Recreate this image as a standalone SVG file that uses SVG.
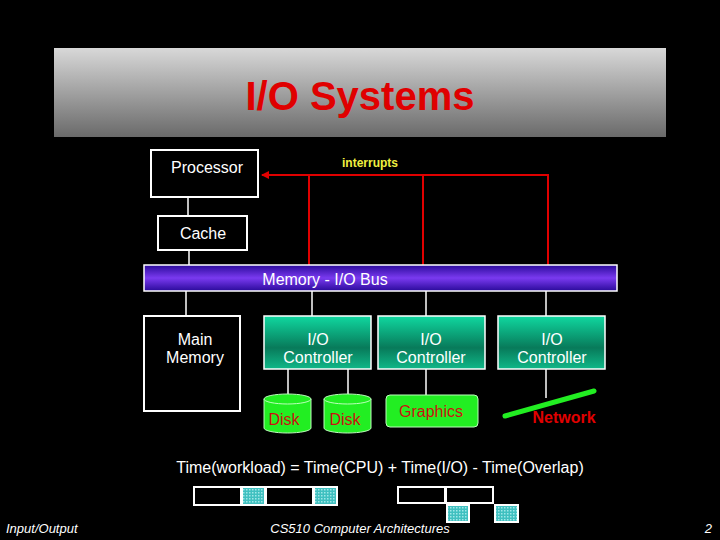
<svg xmlns="http://www.w3.org/2000/svg" width="720" height="540" viewBox="0 0 720 540">
<defs>
<linearGradient id="gt" x1="0" y1="0" x2="0" y2="1"><stop offset="0" stop-color="#d8d8d8"/><stop offset="1" stop-color="#6a6a6a"/></linearGradient>
<linearGradient id="gb" x1="0" y1="0" x2="0" y2="1"><stop offset="0" stop-color="#2a0a9a"/><stop offset="0.5" stop-color="#7a3af0"/><stop offset="1" stop-color="#2a0a9a"/></linearGradient>
<linearGradient id="gc" x1="0" y1="0" x2="0" y2="1"><stop offset="0" stop-color="#10d8a0"/><stop offset="0.6" stop-color="#087a5a"/><stop offset="1" stop-color="#10b888"/></linearGradient>
<pattern id="dots" width="3" height="3" patternUnits="userSpaceOnUse"><rect width="3" height="3" fill="#40c0c0"/><rect width="1.5" height="1.5" fill="#a0e8e8"/></pattern>
<marker id="ar" markerWidth="8" markerHeight="8" refX="7" refY="4" orient="auto" markerUnits="userSpaceOnUse"><path d="M0,0 L8,4 L0,8 z" fill="#e00000"/></marker>
<style>
text{font-family:"Liberation Sans",Arial,sans-serif}
.w{fill:#fff;font-size:16px;text-anchor:middle}
.box{fill:#000;stroke:#fff;stroke-width:2}
.ctl{fill:url(#gc);stroke:#fff;stroke-width:1.5}
.ln{stroke:#fff;stroke-width:1.5;fill:none}
.red{stroke:#e00000;stroke-width:2;fill:none}
.dev{fill:#22ee22;stroke:#bbffbb;stroke-width:1}
.rt{fill:#cc1010;font-size:16px;text-anchor:middle}
.bar{fill:#000;stroke:#fff;stroke-width:2}
.tl{fill:url(#dots);stroke:#fff;stroke-width:2}
</style>
</defs>
<rect width="720" height="540" fill="#000"/>
<rect x="54" y="48" width="612" height="89" fill="url(#gt)"/>
<text x="360" y="110" style="font-size:40px;font-weight:bold;fill:#e00000;text-anchor:middle">I/O Systems</text>
<g id="connectors">
<line class="ln" x1="188" y1="197" x2="188" y2="216"/>
<line class="ln" x1="189" y1="250" x2="189" y2="265"/>
<line class="ln" x1="186" y1="291" x2="186" y2="316"/>
<line class="ln" x1="312" y1="291" x2="312" y2="316"/>
<line class="ln" x1="426" y1="291" x2="426" y2="316"/>
<line class="ln" x1="546" y1="291" x2="546" y2="316"/>
<line class="ln" x1="288" y1="369" x2="288" y2="395"/>
<line class="ln" x1="348" y1="369" x2="348" y2="395"/>
<line class="ln" x1="426" y1="369" x2="426" y2="395"/>
<line class="ln" x1="546" y1="369" x2="546" y2="398"/>
<path class="red" d="M548,265 V175 H262" marker-end="url(#ar)"/>
<line class="red" x1="309" y1="175" x2="309" y2="265"/>
<line class="red" x1="423" y1="175" x2="423" y2="265"/>
<text x="370" y="167" style="font-size:12px;font-weight:bold;fill:#f0f040;text-anchor:middle">interrupts</text>
</g>
<g id="processor"><rect class="box" x="151" y="150" width="107" height="47"/><text class="w" x="207" y="173">Processor</text></g>
<g id="cache"><rect class="box" x="158" y="216" width="89" height="34"/><text class="w" x="203" y="239">Cache</text></g>
<g id="bus"><rect x="144" y="265" width="473" height="26" fill="url(#gb)" stroke="#fff" stroke-width="1.5"/><text class="w" x="325" y="285">Memory - I/O Bus</text></g>
<g id="mainmemory"><rect class="box" x="144" y="316" width="96" height="95"/><text class="w" x="195" y="345">Main</text><text class="w" x="195" y="363">Memory</text></g>
<g id="ctl1"><rect class="ctl" x="264" y="316" width="107" height="53"/><text class="w" x="318" y="345">I/O</text><text class="w" x="318" y="363">Controller</text></g>
<g id="ctl2"><rect class="ctl" x="378" y="316" width="107" height="53"/><text class="w" x="431" y="345">I/O</text><text class="w" x="431" y="363">Controller</text></g>
<g id="ctl3"><rect class="ctl" x="498" y="316" width="107" height="53"/><text class="w" x="552" y="345">I/O</text><text class="w" x="552" y="363">Controller</text></g>
<g id="disk1"><path class="dev" d="M264,399 V428 A23.5,5 0 0 0 311,428 V399"/><ellipse class="dev" cx="287.5" cy="399" rx="23.5" ry="5"/><text class="rt" x="284" y="425">Disk</text></g>
<g id="disk2"><path class="dev" d="M324,399 V428 A23.5,5 0 0 0 371,428 V399"/><ellipse class="dev" cx="347.5" cy="399" rx="23.5" ry="5"/><text class="rt" x="345" y="425">Disk</text></g>
<g id="graphics"><rect class="dev" x="386" y="395" width="92" height="32" rx="4"/><text class="rt" x="431" y="417">Graphics</text></g>
<g id="network"><line x1="505" y1="416" x2="594" y2="391" stroke="#22ee22" stroke-width="5" stroke-linecap="round"/><text x="564" y="423" style="font-size:16px;font-weight:bold;fill:#e00000;text-anchor:middle">Network</text></g>
<text class="w" x="380" y="473">Time(workload) = Time(CPU) + Time(I/O) - Time(Overlap)</text>
<rect class="bar" x="194" y="487" width="47" height="18"/><rect class="tl" x="242" y="487" width="23" height="18"/>
<rect class="bar" x="266" y="487" width="47" height="18"/><rect class="tl" x="314" y="487" width="23" height="18"/>
<rect class="bar" x="398" y="487" width="47" height="16"/><rect class="bar" x="446" y="487" width="47" height="16"/>
<rect class="tl" x="447" y="505" width="22" height="17"/><rect class="tl" x="495" y="505" width="23" height="17"/>
<text x="6" y="533" style="font-size:13px;font-style:italic;fill:#fff">Input/Output</text>
<text x="360" y="533" style="font-size:13px;font-style:italic;fill:#fff;text-anchor:middle">CS510 Computer Architectures</text>
<text x="712" y="533" style="font-size:13px;font-style:italic;fill:#fff;text-anchor:end">2</text>
</svg>
